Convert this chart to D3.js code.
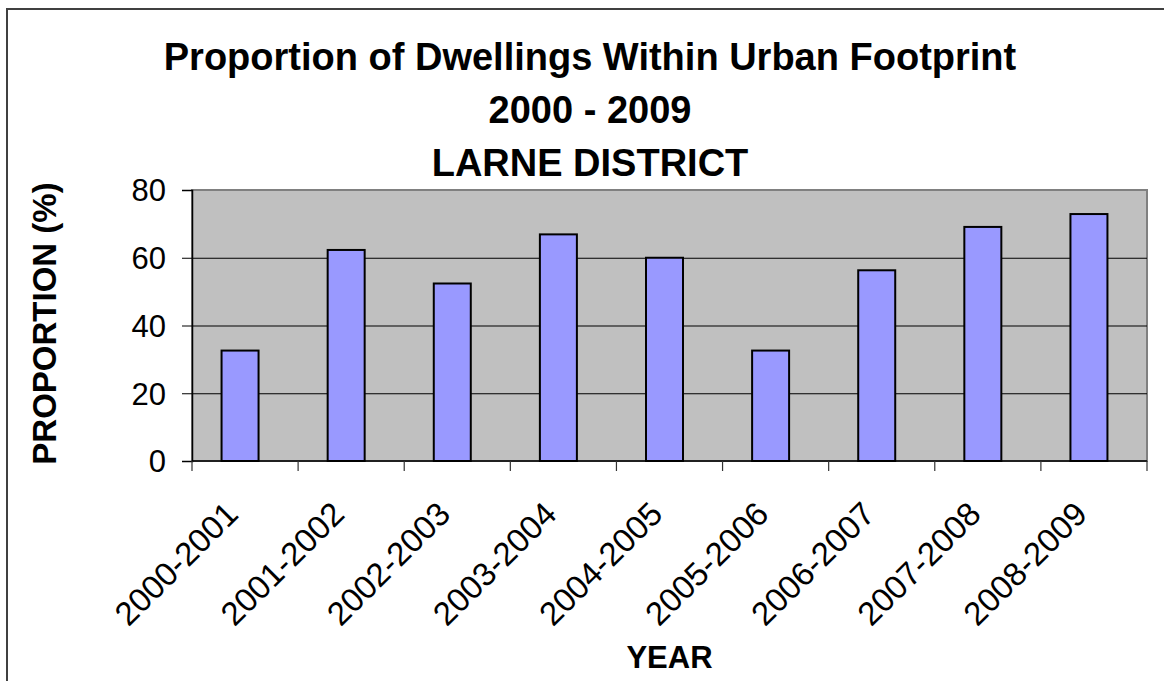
<!DOCTYPE html>
<html>
<head>
<meta charset="utf-8">
<script src="https://cdn.jsdelivr.net/npm/d3@7"></script>
<style>
  html, body { margin: 0; padding: 0; background: #fff; }
  svg { display: block; font-family: "Liberation Sans", Arial, sans-serif; }
</style>
</head>
<body>
<svg id="chart" width="1164" height="681"></svg>
<script>
const categories = ["2000-2001","2001-2002","2002-2003","2003-2004","2004-2005","2005-2006","2006-2007","2007-2008","2008-2009"];
const values = [32.6, 62.3, 52.4, 66.9, 60.0, 32.6, 56.3, 69.1, 72.9];
const yTicks = [0, 20, 40, 60, 80];
const titleLines = ["Proportion of Dwellings Within Urban Footprint", "2000 - 2009", "LARNE DISTRICT"];
const xTitle = "YEAR";
const yTitle = "PROPORTION (%)";

const svg = d3.select("#chart");
const W = 1164, H = 681;
const plot = {left: 192, right: 1147, top: 190, bottom: 461};

// outer chart border
svg.append("rect").attr("x", 7).attr("y", 9).attr("width", W).attr("height", H)
  .attr("fill", "#fff").attr("stroke", "#404040").attr("stroke-width", 2);

const x = d3.scaleBand().domain(categories).range([plot.left, plot.right]).paddingInner(0).paddingOuter(0);
const y = d3.scaleLinear().domain([0, 80]).range([plot.bottom, plot.top]);

// plot area
svg.append("rect").attr("x", plot.left).attr("y", plot.top)
  .attr("width", plot.right - plot.left).attr("height", plot.bottom - plot.top)
  .attr("fill", "#C0C0C0").attr("stroke", "#808080").attr("stroke-width", 2);

// gridlines
svg.append("g").selectAll("line").data(yTicks.filter(d => d > 0 && d < 80)).join("line")
  .attr("x1", plot.left).attr("x2", plot.right)
  .attr("y1", d => y(d) + 0.5).attr("y2", d => y(d) + 0.5)
  .attr("stroke", "#000").attr("stroke-width", 1);

// bars
const barW = 37;
const barShift = -5;
svg.append("g").selectAll("rect").data(values).join("rect")
  .attr("x", (d, i) => x(categories[i]) + (x.bandwidth() - barW) / 2 + barShift)
  .attr("y", d => y(d))
  .attr("width", barW)
  .attr("height", d => y(0) - y(d))
  .attr("fill", "#9999FF").attr("stroke", "#000").attr("stroke-width", 2);

// y axis
const yAxis = d3.axisLeft(y).tickValues(yTicks).tickSize(10).tickPadding(16);
const gy = svg.append("g").attr("transform", `translate(${plot.left},0)`).call(yAxis);
gy.select(".domain").attr("stroke", "#000").attr("stroke-width", 1.5);
gy.selectAll(".tick line").attr("stroke", "#000");
gy.selectAll(".tick text").attr("font-size", 31).attr("fill", "#000")
  .attr("font-family", "Liberation Sans, Arial, sans-serif").attr("dy", "0.35em");

// x axis
const gx = svg.append("g").attr("transform", `translate(0,${plot.bottom})`);
gx.append("line").attr("x1", plot.left).attr("x2", plot.right).attr("y1", 0).attr("y2", 0)
  .attr("stroke", "#000").attr("stroke-width", 1.5);
const tickPos = categories.map(c => x(c)).concat([plot.right]);
gx.selectAll("line.tk").data(tickPos).join("line").attr("class", "tk")
  .attr("x1", d => d).attr("x2", d => d).attr("y1", 0).attr("y2", 10)
  .attr("stroke", "#333").attr("stroke-width", 1.2);
gx.selectAll("text").data(categories).join("text")
  .attr("transform", c => `translate(${x(c) + x.bandwidth() / 2 - 5},${55}) rotate(-45)`)
  .attr("text-anchor", "end")
  .attr("font-size", 33).attr("fill", "#000")
  .text(c => c);

// titles
svg.append("g").selectAll("text").data(titleLines).join("text")
  .attr("x", 590).attr("y", (d, i) => 70 + i * 53)
  .attr("text-anchor", "middle").attr("font-weight", "bold").attr("font-size", 38)
  .attr("fill", "#000").text(d => d);

svg.append("text").attr("x", (plot.left + plot.right) / 2).attr("y", 668)
  .attr("text-anchor", "middle").attr("font-weight", "bold").attr("font-size", 31)
  .text(xTitle);

svg.append("text").attr("transform", `translate(56,${(plot.top + plot.bottom) / 2 - 2}) rotate(-90)`)
  .attr("text-anchor", "middle").attr("font-weight", "bold").attr("font-size", 33)
  .text(yTitle);
</script>
</body>
</html>
